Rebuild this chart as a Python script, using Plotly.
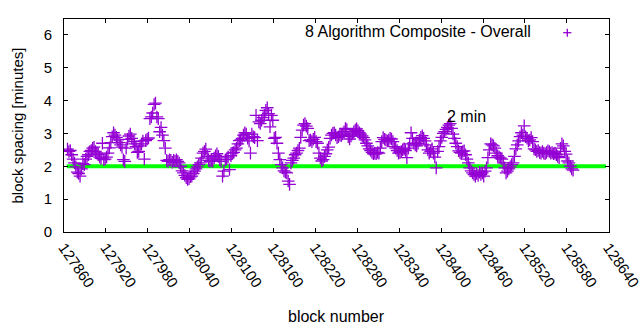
import plotly.graph_objects as go

first_block = 127865
block_step = 2
spacing = [
    2.52, 2.45, 2.48, 2.35, 2.22, 2.10, 1.98, 1.82, 1.78, 1.70,
    1.92, 2.08, 2.05, 2.22, 2.30, 2.35, 2.45, 2.48, 2.55, 2.58,
    2.45, 2.40, 2.35, 2.28, 2.24, 2.70, 2.20, 2.22, 2.28, 2.40,
    2.56, 2.72, 2.90, 3.02, 2.95, 2.88, 2.80, 2.72, 2.65, 2.58,
    2.20, 2.15, 2.55, 2.82, 2.92, 2.98, 2.85, 2.75, 2.68, 2.60,
    2.42, 2.45, 2.62, 2.68, 2.77, 2.22, 2.78, 2.82, 2.86, 3.45,
    3.50, 3.62, 3.88, 3.92, 3.50, 3.45, 3.05, 3.18, 2.95, 2.78,
    2.55, 2.18, 2.15, 2.20, 2.18, 2.12, 2.18, 2.15, 2.20, 2.15,
    2.10, 2.00, 1.86, 1.80, 1.72, 1.65, 1.60, 1.62, 1.68, 1.70,
    1.78, 1.85, 1.92, 1.98, 2.05, 2.10, 2.25, 2.40, 2.45, 2.52,
    2.30, 2.18, 2.15, 2.18, 2.15, 2.25, 2.32, 2.38, 2.30, 2.20,
    2.15, 1.70, 1.85, 2.20, 2.22, 2.28, 1.90, 2.32, 2.40, 2.42,
    2.50, 2.55, 2.68, 2.78, 2.80, 2.85, 2.95, 3.02, 2.98, 2.85,
    2.77, 2.40, 2.98, 2.90, 2.87, 3.55, 2.78, 3.35, 3.30, 3.40,
    3.48, 3.55, 3.70, 3.78, 3.60, 3.20, 3.55, 3.40, 2.85, 2.88,
    2.70, 2.40, 2.20, 2.05, 1.95, 1.86, 1.82, 1.80, 1.55, 1.45,
    2.10, 2.18, 2.25, 2.35, 2.40, 2.48, 2.55, 2.88, 3.10, 3.25,
    3.30, 3.22, 3.15, 2.78, 2.80, 2.75, 2.82, 2.88, 2.75, 2.70,
    2.40, 2.25, 2.16, 2.20, 2.30, 2.38, 2.50, 2.58, 2.85, 2.95,
    3.00, 3.02, 2.95, 2.87, 2.90, 2.95, 2.93, 2.98, 3.05, 3.15,
    3.12, 2.90, 2.83, 2.92, 2.98, 3.05, 3.10, 3.14, 3.08, 3.02,
    2.98, 2.92, 2.87, 2.80, 2.70, 2.62, 2.53, 2.48, 2.42, 2.38,
    2.40, 2.38, 2.42, 2.40, 2.55, 2.75, 2.87, 2.82, 2.80, 2.77,
    2.80, 2.85, 2.83, 2.75, 2.60, 2.55, 2.48, 2.40, 2.42, 2.45,
    2.50, 2.53, 2.48, 2.26, 2.55, 2.68, 3.02, 2.85, 2.70, 2.65,
    2.62, 2.70, 2.80, 2.88, 2.93, 2.85, 2.77, 2.65, 2.50, 2.40,
    2.45, 2.53, 2.40, 2.28, 1.95, 2.45, 2.60, 2.77, 2.88, 3.00,
    3.05, 3.12, 3.18, 3.25, 3.30, 3.15, 2.98, 2.85, 2.70, 2.60,
    2.47, 2.42, 2.40, 2.45, 2.47, 2.35, 2.22, 2.10, 1.95, 1.86,
    1.80, 1.75, 1.70, 1.78, 1.72, 1.82, 1.75, 1.80, 1.70, 1.85,
    1.95, 2.26, 2.50, 2.68, 2.65, 2.62, 2.55, 2.40, 2.32, 2.28,
    2.25, 2.22, 2.10, 1.95, 1.80, 1.85, 1.92, 1.98, 2.05, 2.10,
    2.30, 2.53, 2.65, 2.77, 2.90, 3.02, 2.95, 3.23, 2.90, 2.85,
    2.77, 2.80, 2.87, 2.75, 2.53, 2.50, 2.45, 2.48, 2.42, 2.40,
    2.45, 2.40, 2.38, 2.42, 2.47, 2.45, 2.40, 2.42, 2.38, 2.40,
    2.35, 2.30, 2.26, 2.55, 2.68, 2.62, 2.45, 2.37, 2.16, 2.10,
    2.00, 1.92, 1.88,
]
blocks = [first_block + block_step * i for i in range(len(spacing))]

target_minutes = 2
target_span = [127864, 128636]

x_ticks = list(range(127860, 128641, 60))
y_ticks = list(range(0, 7))

series_name = "8 Algorithm Composite - Overall"
target_label = "2 min"
target_label_pos = (128406, 3.5)

purple = "#9400d3"
green = "#00ff00"
font = "Liberation Sans, Arial, sans-serif"

fig = go.Figure()
fig.add_trace(go.Scatter(
    x=target_span, y=[target_minutes] * len(target_span), mode="lines",
    line=dict(color=green, width=4), showlegend=False, hoverinfo="skip"))
fig.add_trace(go.Scatter(
    x=blocks, y=spacing, mode="markers", name=series_name,
    marker=dict(symbol="cross-thin-open", size=9, color=purple,
                line=dict(color=purple, width=1.3)),
    showlegend=False))

fig.add_annotation(x=target_label_pos[0], y=target_label_pos[1], text=target_label,
                   showarrow=False, xanchor="left", yanchor="middle",
                   font=dict(size=16, color="black", family=font))

# key (gnuplot-style: text then sample)
fig.add_annotation(xref="paper", yref="paper", x=0.861, y=0.94, text=series_name,
                   showarrow=False, xanchor="right", yanchor="middle",
                   font=dict(size=16, color="black", family=font))
kx, ky, hw, hh = 0.9235, 0.9357, 0.0075, 0.019
fig.add_shape(type="line", xref="paper", yref="paper", x0=kx - hw, x1=kx + hw, y0=ky, y1=ky,
              line=dict(color=purple, width=1.3))
fig.add_shape(type="line", xref="paper", yref="paper", x0=kx, x1=kx, y0=ky - hh, y1=ky + hh,
              line=dict(color=purple, width=1.3))

fig.add_annotation(xref="paper", yref="paper", x=0.5, y=0, yshift=-84, text="block number",
                   showarrow=False, xanchor="center", yanchor="middle",
                   font=dict(size=16, color="black", family=font))
fig.add_annotation(xref="paper", yref="paper", x=0, xshift=-47, y=0.5, text="block spacing [minutes]",
                   textangle=-90, showarrow=False, xanchor="center", yanchor="middle",
                   font=dict(size=15, color="black", family=font))

axis_common = dict(showline=True, linecolor="black", linewidth=1, mirror="ticks",
                   ticks="inside", ticklen=4, tickcolor="black", showgrid=False,
                   zeroline=False, ticklabeloverflow="allow", automargin=False,
                   tickfont=dict(size=15, color="black", family=font))
fig.update_xaxes(range=[127860, 128640.4], tickvals=x_ticks, ticktext=[str(v) for v in x_ticks],
                 tickangle=55, **axis_common)
fig.update_yaxes(range=[0, 6.48], tickvals=y_ticks, ticklabelstandoff=8, **axis_common)

fig.update_layout(width=640, height=330, margin=dict(l=64, r=31, t=19, b=98, autoexpand=False),
                  plot_bgcolor="white", paper_bgcolor="white", showlegend=False)
fig.write_html("out.html")
